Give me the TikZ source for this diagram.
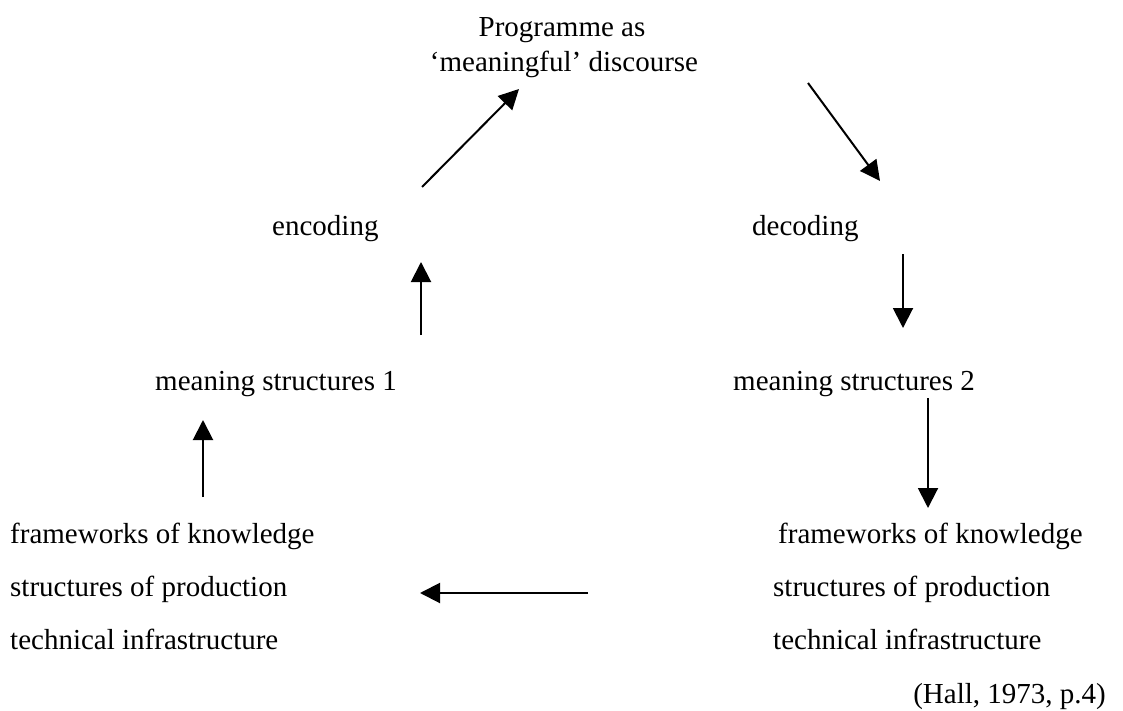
\documentclass[tikz,border=0pt]{standalone}
\usepackage{fontspec}
\setmainfont{Liberation Serif}
\usetikzlibrary{arrows.meta}
\begin{document}
\begin{tikzpicture}[x=1pt,y=-1pt,
  txt/.style={inner sep=0pt, font=\fontsize{29}{35}\selectfont},
  lbl/.style={txt, anchor=base west},
  lblc/.style={txt, anchor=base},
  lble/.style={txt, anchor=base east},
  flow/.style={line width=2pt, -{Triangle[length=20pt,width=20pt]}}]
\useasboundingbox (0,0) rectangle (1123,711);

% programme at the top
\node[lblc] (prog) at (562,37) {Programme as};
\node[lblc] (disc) at (564,72) {‘meaningful’ discourse};

% encoding / decoding moments
\node[lbl] (enc) at (272,236) {encoding};
\node[lbl] (dec) at (752,236) {decoding};

% meaning structures
\node[lbl] (ms1) at (155,390) {meaning structures 1};
\node[lbl] (ms2) at (733,390) {meaning structures 2};

% production side
\node[lbl] (fk1) at (10,543) {frameworks of knowledge};
\node[lbl] (sp1) at (10,596) {structures of production};
\node[lbl] (ti1) at (10,649) {technical infrastructure};

% reception side
\node[lbl] (fk2) at (778,543) {frameworks of knowledge};
\node[lbl] (sp2) at (773,596) {structures of production};
\node[lbl] (ti2) at (773,649) {technical infrastructure};

\node[lble] (src) at (1106,703) {(Hall, 1973, p.4)};

% arrow end points
\coordinate (a1s) at (422,187); \coordinate (a1e) at (519,89);
\coordinate (a2s) at (808,83);  \coordinate (a2e) at (880,181);
\coordinate (a3s) at (421,335); \coordinate (a3e) at (421,262);
\coordinate (a4s) at (903,254); \coordinate (a4e) at (903,328);
\coordinate (a5s) at (203,497); \coordinate (a5e) at (203,420);
\coordinate (a6s) at (928,398); \coordinate (a6e) at (928,508);
\coordinate (a7s) at (588,593); \coordinate (a7e) at (420,593);

\draw[flow] (a1s) -- (a1e);
\draw[flow] (a2s) -- (a2e);
\draw[flow] (a3s) -- (a3e);
\draw[flow] (a4s) -- (a4e);
\draw[flow] (a5s) -- (a5e);
\draw[flow] (a6s) -- (a6e);
\draw[flow] (a7s) -- (a7e);
\end{tikzpicture}
\end{document}
